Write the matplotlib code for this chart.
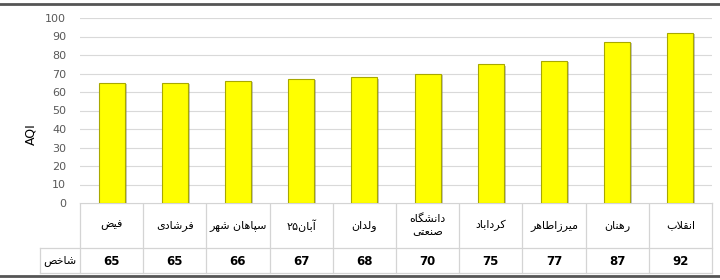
import matplotlib
matplotlib.use("Agg")
import matplotlib.pyplot as plt
import matplotlib.patheffects as pe
import numpy as np

# stations (left to right as in the chart) and their AQI
stations = ["فیض", "فرشادی", "سپاهان شهر", "۲۵آبان", "ولدان", "دانشگاه\nصنعتی",
            "کرداباد", "میرزاطاهر", "رهنان", "انقلاب"]
aqi = [65, 65, 66, 67, 68, 70, 75, 77, 87, 92]
row_label = "شاخص"
y_ticks = list(range(0, 101, 10))

# arabic/persian shaping by hand (matplotlib has no complex text layout)
# letter: (isolated, final, initial, medial) ; right-joining ones have only 2
FORMS = {
    "ا": (0xFE8D, 0xFE8E), "آ": (0xFE81, 0xFE82),
    "ب": (0xFE8F, 0xFE90, 0xFE91, 0xFE92), "پ": (0xFB56, 0xFB57, 0xFB58, 0xFB59),
    "ت": (0xFE95, 0xFE96, 0xFE97, 0xFE98), "ث": (0xFE99, 0xFE9A, 0xFE9B, 0xFE9C),
    "ج": (0xFE9D, 0xFE9E, 0xFE9F, 0xFEA0), "چ": (0xFB7A, 0xFB7B, 0xFB7C, 0xFB7D),
    "ح": (0xFEA1, 0xFEA2, 0xFEA3, 0xFEA4), "خ": (0xFEA5, 0xFEA6, 0xFEA7, 0xFEA8),
    "د": (0xFEA9, 0xFEAA), "ذ": (0xFEAB, 0xFEAC), "ر": (0xFEAD, 0xFEAE),
    "ز": (0xFEAF, 0xFEB0), "ژ": (0xFB8A, 0xFB8B),
    "س": (0xFEB1, 0xFEB2, 0xFEB3, 0xFEB4), "ش": (0xFEB5, 0xFEB6, 0xFEB7, 0xFEB8),
    "ص": (0xFEB9, 0xFEBA, 0xFEBB, 0xFEBC), "ض": (0xFEBD, 0xFEBE, 0xFEBF, 0xFEC0),
    "ط": (0xFEC1, 0xFEC2, 0xFEC3, 0xFEC4), "ظ": (0xFEC5, 0xFEC6, 0xFEC7, 0xFEC8),
    "ع": (0xFEC9, 0xFECA, 0xFECB, 0xFECC), "غ": (0xFECD, 0xFECE, 0xFECF, 0xFED0),
    "ف": (0xFED1, 0xFED2, 0xFED3, 0xFED4), "ق": (0xFED5, 0xFED6, 0xFED7, 0xFED8),
    "ک": (0xFB8E, 0xFB8F, 0xFB90, 0xFB91), "گ": (0xFB92, 0xFB93, 0xFB94, 0xFB95),
    "ل": (0xFEDD, 0xFEDE, 0xFEDF, 0xFEE0), "م": (0xFEE1, 0xFEE2, 0xFEE3, 0xFEE4),
    "ن": (0xFEE5, 0xFEE6, 0xFEE7, 0xFEE8), "و": (0xFEED, 0xFEEE),
    "ه": (0xFEE9, 0xFEEA, 0xFEEB, 0xFEEC), "ی": (0xFBFC, 0xFBFD, 0xFBFE, 0xFBFF),
}


def shape_word(s):
    out = []
    i = 0
    n = len(s)
    while i < n:
        c = s[i]
        if c not in FORMS:
            out.append(c)
            i += 1
            continue
        prev = s[i - 1] if i > 0 else ""
        prev_joins = prev in FORMS and len(FORMS[prev]) == 4
        # lam + alef ligature
        if c == "ل" and i + 1 < n and s[i + 1] == "ا":
            out.append(chr(0xFEFC if prev_joins else 0xFEFB))
            i += 2
            continue
        nxt = s[i + 1] if i + 1 < n else ""
        next_joins = len(FORMS[c]) == 4 and nxt in FORMS
        f = FORMS[c]
        if prev_joins and next_joins:
            g = f[3]
        elif prev_joins:
            g = f[1]
        elif next_joins:
            g = f[2]
        else:
            g = f[0]
        out.append(chr(g))
        i += 1
    return "".join(out)


def rtl(s):
    lines = []
    for line in s.split("\n"):
        if line.startswith("۲۵"):
            lines.append("۲۵" + shape_word(line[2:])[::-1])
        else:
            lines.append(shape_word(line)[::-1])
    return "\n".join(lines)


plt.rcParams["font.family"] = ["DejaVu Sans"]

W, H = 720, 280
fig = plt.figure(figsize=(W / 100, H / 100), dpi=100)

left, right, y0, y100 = 80, 712, 203, 18
ax = fig.add_axes([left / W, 1 - y0 / H, (right - left) / W, (y0 - y100) / H])

x = np.arange(len(aqi))
bars = ax.bar(x, aqi, width=0.41, color="#FFFF00", edgecolor="#A8A800", linewidth=0.8, zorder=3)
for b in bars:
    b.set_path_effects([pe.SimplePatchShadow(offset=(1.5, -1.0), shadow_rgbFace="#7F7F7F", alpha=0.45),
                        pe.Normal()])

ax.set_xlim(-0.5, len(aqi) - 0.5)
ax.set_ylim(0, 100)
ax.set_yticks(y_ticks)
ax.tick_params(axis="y", length=0, labelsize=8, labelcolor="#595959", pad=10)
ax.set_xticks([])
ax.grid(axis="y", color="#D9D9D9", linewidth=0.8, zorder=0)
for sp in ax.spines.values():
    sp.set_visible(False)

fig.text(31 / W, 1 - 134 / H, "AQI", rotation=90, ha="center", va="center", fontsize=9)

# data table below the plot drawn in pixel coordinates
tab = fig.add_axes([0, 0, 1, 1], zorder=-1)
tab.set_xlim(0, W)
tab.set_ylim(H, 0)
tab.axis("off")

lc = "#D4D4D4"
r1, r2, r3 = 203, 248, 273
colw = (right - left) / len(aqi)
for k in range(len(aqi) + 1):
    xx = left + k * colw
    tab.plot([xx, xx], [r1, r3], color=lc, lw=0.9)
tab.plot([40, 40], [r2, r3], color=lc, lw=0.9)
tab.plot([left, right], [r1, r1], color=lc, lw=0.9)
tab.plot([40, right], [r2, r2], color=lc, lw=0.9)
tab.plot([40, right], [r3, r3], color=lc, lw=0.9)

for k, (name, v) in enumerate(zip(stations, aqi)):
    cx = left + (k + 0.5) * colw
    tab.text(cx, (r1 + r2) / 2, rtl(name), ha="center", va="center", fontsize=8,
             linespacing=1.4)
    tab.text(cx, (r2 + r3) / 2 + 1, str(v), ha="center", va="center", fontsize=8.5,
             fontweight="bold")
tab.text(60, (r2 + r3) / 2, rtl(row_label), ha="center", va="center", fontsize=8)

# frame lines at top and bottom of the image
tab.plot([0, W], [4, 4], color="#555555", lw=2)
tab.plot([0, W], [276, 276], color="#555555", lw=2)

fig.savefig("out.png", dpi=100)
